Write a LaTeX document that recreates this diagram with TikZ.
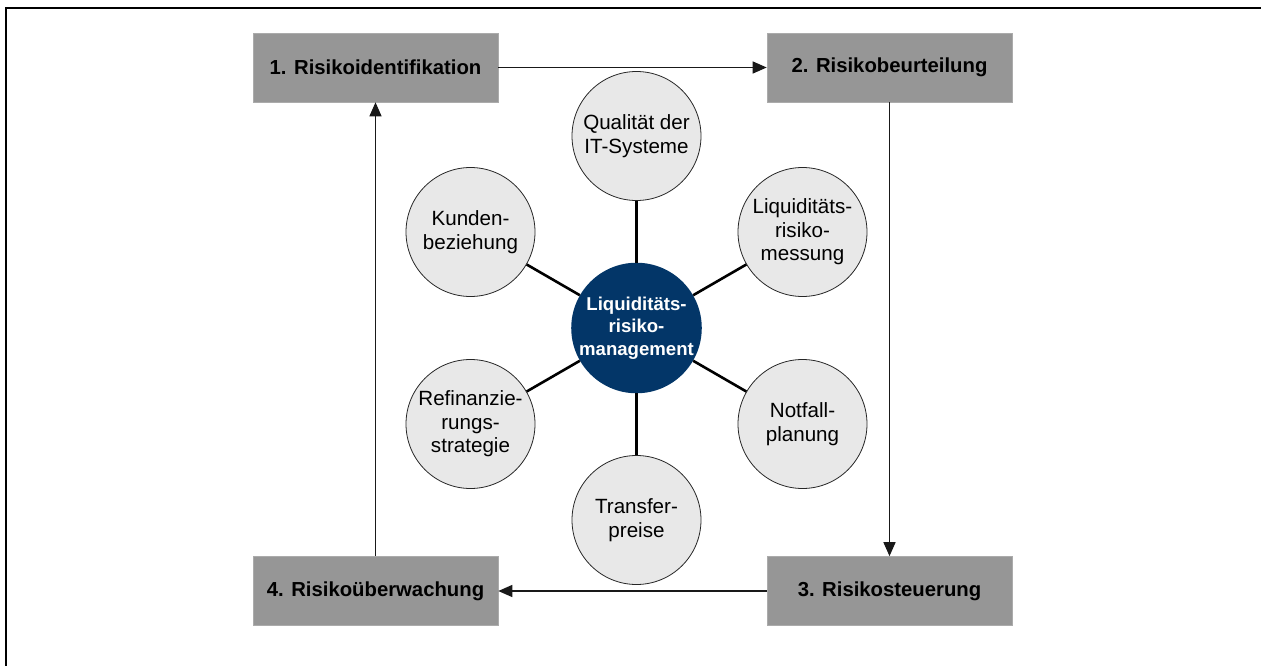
\documentclass[tikz,border=0pt]{standalone}
\usepackage{fontspec}
\setmainfont{Liberation Sans}
\usetikzlibrary{arrows.meta}
\definecolor{boxgray}{RGB}{150,150,150}
\definecolor{circfill}{RGB}{232,232,232}
\definecolor{navy}{RGB}{3,54,104}
\tikzset{
  stepbox/.style={fill=boxgray, draw=boxgray!80!white, line width=0.6pt, minimum width=245pt, minimum height=69pt, inner sep=0pt,
    font=\fontsize{20.3}{24}\selectfont\bfseries},
  topic/.style={circle, fill=circfill, draw=black!85, line width=0.8pt, minimum size=129pt, inner sep=0pt, align=center,
    font=\fontsize{20.6}{23.5}\selectfont},
  hub/.style={circle, fill=navy, minimum size=127pt, inner sep=0pt, align=center, text=white,
    font=\fontsize{18.6}{22.5}\selectfont\bfseries},
  spoke/.style={line width=2.6pt, black},
  flow/.style={line width=1.3pt, black!90, -{Triangle[length=14pt,width=12pt]}}
}
\begin{document}
\begin{tikzpicture}[x=1pt,y=-1pt]
\useasboundingbox (0,0) rectangle (1261,666);
\draw[line width=2.3pt] (6,666) -- (6,8) -- (1261,8);

\node[stepbox] (s1) at (375.5,67.5) {1. Risikoidentifikation};
\node[stepbox] (s2) at (889.5,67.5) {2. Risikobeurteilung};
\node[stepbox] (s3) at (889.5,591) {3. Risikosteuerung};
\node[stepbox] (s4) at (375.5,591) {4. Risikoüberwachung};

\node[hub] (c) at (636.5,328) {Liquiditäts-\\risiko-\\management};
\node[topic] (q) at (636.5,136) {Qualität der\\IT-Systeme};
\node[topic] (m) at (802.5,232) {Liquiditäts-\\risiko-\\messung};
\node[topic] (n) at (802.5,424) {Notfall-\\planung};
\node[topic] (t) at (636.5,520) {Transfer-\\preise};
\node[topic] (r) at (470.5,424) {Refinanzie-\\rungs-\\strategie};
\node[topic] (k) at (470.5,232) {Kunden-\\beziehung};

\foreach \o in {q,m,n,t,r,k} \draw[spoke] (c) -- (\o);

\draw[flow] (s1) -- (s2);
\draw[flow] (s2) -- (s3);
\draw[flow] (s3) -- (s4);
\draw[flow] (s4) -- (s1);
\end{tikzpicture}
\end{document}
